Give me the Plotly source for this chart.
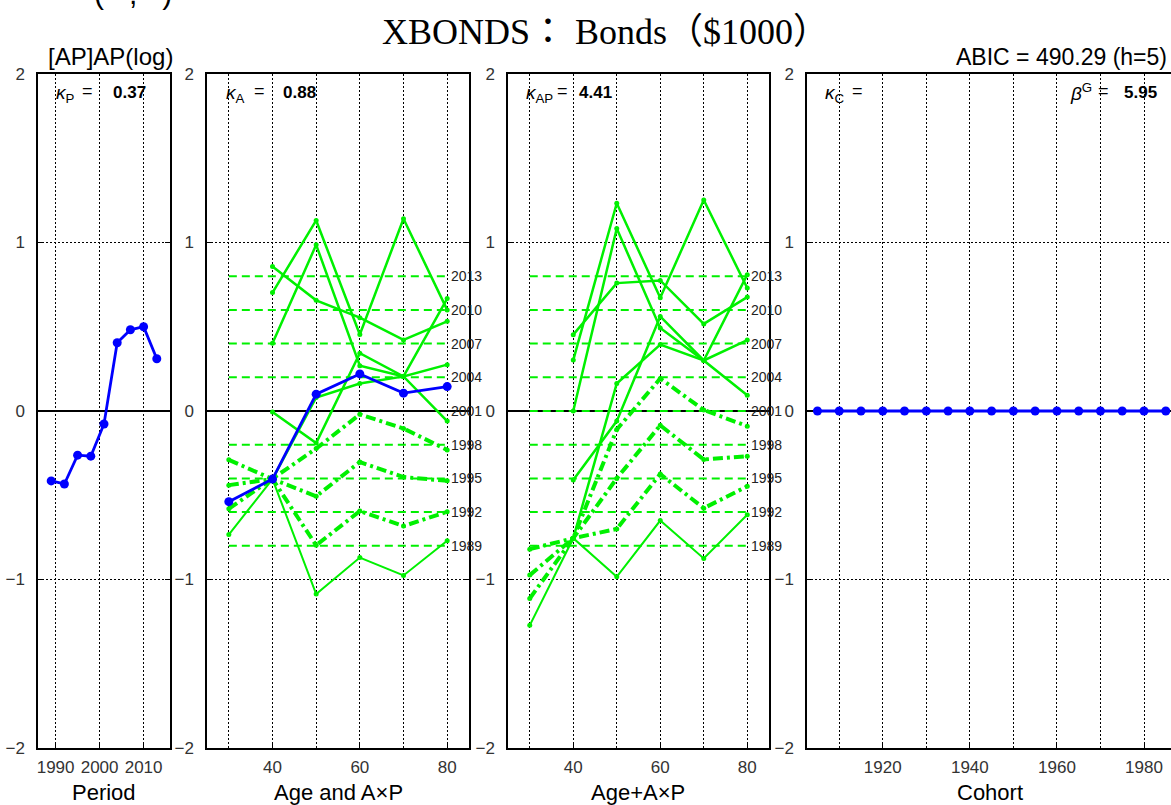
import plotly.graph_objects as go

# ---------------- data ----------------
periods = [1989, 1992, 1995, 1998, 2001, 2004, 2007, 2010, 2013]
period_effect = [-0.415, -0.433, -0.262, -0.268, -0.077, 0.405, 0.482, 0.500, 0.310]
period_level = [-0.8, -0.6, -0.4, -0.2, 0.0, 0.2, 0.4, 0.6, 0.8]
period_labels = ["1989", "1992", "1995", "1998", "2001", "2004", "2007", "2010", "2013"]

ages = [30, 40, 50, 60, 70, 80]
age_effect = [-0.538, -0.404, 0.100, 0.220, 0.106, 0.145]

# Age and A×P profiles, one list per period (None = age group not observed)
ap_1989 = [-0.733, -0.404, -1.086, -0.870, -0.976, -0.770]
ap_1992 = [-0.440, -0.404, -0.797, -0.594, -0.683, -0.598]
ap_1995 = [-0.290, -0.404, -0.506, -0.303, -0.392, -0.414]
ap_1998 = [-0.580, -0.404, -0.223, -0.020, -0.104, -0.231]
ap_2001 = [None, -0.404, 0.080, 0.163, 0.205, 0.667]
ap_2004 = [None, -0.006, -0.190, 0.343, 0.205, -0.060]
ap_2007 = [None, 0.402, 0.986, 0.269, 0.205, 0.275]
ap_2010 = [None, 0.703, 1.131, 0.454, 1.141, 0.600]
ap_2013 = [None, 0.857, 0.657, 0.554, 0.422, 0.532]

# Age + A×P profiles
sum_1989 = [-1.272, -0.755, -0.984, -0.650, -0.875, -0.616]
sum_1992 = [-0.974, -0.755, -0.700, -0.374, -0.577, -0.447]
sum_1995 = [-0.820, -0.755, -0.400, -0.085, -0.288, -0.268]
sum_1998 = [-1.113, -0.755, -0.110, 0.193, 0.006, -0.090]
sum_2001 = [None, -0.755, 0.163, 0.394, 0.300, 0.809]
sum_2004 = [None, -0.410, -0.060, 0.561, 0.300, 0.093]
sum_2007 = [None, 0.000, 1.083, 0.493, 0.300, 0.421]
sum_2010 = [None, 0.302, 1.233, 0.672, 1.252, 0.730]
sum_2013 = [None, 0.453, 0.759, 0.775, 0.517, 0.676]

cohorts = [1905, 1910, 1915, 1920, 1925, 1930, 1935, 1940, 1945,
           1950, 1955, 1960, 1965, 1970, 1975, 1980, 1985]
cohort_effect = [0.0, 0.0, 0.0, 0.0, 0.0, 0.0, 0.0, 0.0, 0.0,
                 0.0, 0.0, 0.0, 0.0, 0.0, 0.0, 0.0, 0.0]

ap_rows = [ap_1989, ap_1992, ap_1995, ap_1998, ap_2001, ap_2004, ap_2007, ap_2010, ap_2013]
sum_rows = [sum_1989, sum_1992, sum_1995, sum_1998, sum_2001, sum_2004, sum_2007, sum_2010, sum_2013]

# ---------------- styling ----------------
W, H = 1171, 805
GREEN = "#00f000"
BLUE = "#0000ff"
SANS = "Liberation Sans, Arial, sans-serif"
SERIF = "Liberation Serif, Noto Sans CJK JP, serif"
TICKC = "#333333"
DOT = "1.5px,2.5px"


def px_x(p):
    return p / W


def px_y(p):
    return 1 - p / H


def line_style(period):
    if period == 1989:
        return dict(color=GREEN, width=2)
    if period < 2001:
        return dict(color=GREEN, width=4, dash="10px,4px,3px,4px")
    return dict(color=GREEN, width=2.5)


fig = go.Figure()

# Panel 1: period effect
fig.add_trace(go.Scatter(x=periods, y=period_effect, mode="lines+markers",
                         line=dict(color=BLUE, width=2.8),
                         marker=dict(color=BLUE, size=9),
                         xaxis="x", yaxis="y", showlegend=False))

# Panels 2 and 3: period reference levels and age profiles
for ax, rows, zero_on_top in (("2", ap_rows, True), ("3", sum_rows, False)):
    for lvl in period_level:
        fig.add_trace(go.Scatter(x=[ages[0], ages[-1]], y=[lvl, lvl], mode="lines",
                                 line=dict(color=GREEN, width=2, dash="8px,5px"),
                                 xaxis="x" + ax, yaxis="y" + ax, showlegend=False,
                                 hoverinfo="skip"))
    if zero_on_top:
        fig.add_trace(go.Scatter(x=[25, 85], y=[0, 0], mode="lines",
                                 line=dict(color="black", width=2),
                                 xaxis="x" + ax, yaxis="y" + ax, showlegend=False,
                                 hoverinfo="skip"))
    for p, row in zip(periods, rows):
        fig.add_trace(go.Scatter(x=ages, y=row, mode="lines+markers",
                                 line=line_style(p),
                                 marker=dict(color=GREEN, size=5),
                                 connectgaps=False,
                                 xaxis="x" + ax, yaxis="y" + ax, showlegend=False,
                                 name=str(p)))

# Panel 2: age effect
fig.add_trace(go.Scatter(x=ages, y=age_effect, mode="lines+markers",
                         line=dict(color=BLUE, width=2.8),
                         marker=dict(color=BLUE, size=9),
                         xaxis="x2", yaxis="y2", showlegend=False))

# Panel 4: cohort effect
fig.add_trace(go.Scatter(x=cohorts, y=cohort_effect, mode="lines+markers",
                         line=dict(color=BLUE, width=2.8),
                         marker=dict(color=BLUE, size=9),
                         xaxis="x4", yaxis="y4", showlegend=False))

# ---------------- axes ----------------
panels = {
    "": dict(left=38, right=170, rng=[1986, 2016], major=[1990, 2000, 2010], minor=None),
    "2": dict(left=207, right=469, rng=[25, 85], major=[40, 60, 80], minor=[30, 50, 70]),
    "3": dict(left=508, right=769, rng=[25, 85], major=[40, 60, 80], minor=[30, 50, 70]),
    "4": dict(left=807, right=W, rng=[1902.6, 1986.2], major=[1920, 1940, 1960, 1980],
              minor=[1910, 1930, 1950, 1970]),
}
y_dom = [px_y(748), px_y(74)]

for key, pnl in panels.items():
    last = key == "4"
    xa = dict(domain=[px_x(pnl["left"]), px_x(pnl["right"])], range=pnl["rng"],
              anchor="y" + key, tickvals=pnl["major"], ticks="inside", ticklen=5,
              tickcolor="black", showline=True, linecolor="black", linewidth=1.5,
              mirror=True, showgrid=True, gridcolor="black", griddash=DOT, gridwidth=1,
              zeroline=False, tickfont=dict(family=SANS, size=17, color=TICKC),
              ticklabelstandoff=3, fixedrange=True)
    if pnl["minor"]:
        xa["minor"] = dict(tickvals=pnl["minor"], showgrid=True, gridcolor="black",
                           griddash=DOT, gridwidth=1, ticks="")
    ya = dict(domain=y_dom, range=[-2, 2], anchor="x" + key,
              tickvals=[-2, -1, 0, 1, 2], ticks="inside", ticklen=5, tickcolor="black",
              showline=True, linecolor="black", linewidth=1.5,
              mirror=False if last else "ticks",
              showgrid=True, gridcolor="black", griddash=DOT, gridwidth=1,
              zeroline=True, zerolinecolor="black", zerolinewidth=2,
              tickfont=dict(family=SANS, size=17, color=TICKC),
              ticklabelstandoff=8, fixedrange=True)
    fig.layout["xaxis" + key] = xa
    fig.layout["yaxis" + key] = ya

# ---------------- text ----------------
ann = []


def text(x, y, s, size=17, anchor="center", family=SANS, color="black", yanchor="middle"):
    ann.append(dict(x=px_x(x), y=px_y(y), xref="paper", yref="paper", text=s,
                    showarrow=False, xanchor=anchor, yanchor=yanchor,
                    font=dict(family=family, size=size, color=color)))


text(133, -7, "(   ,   )", size=30)
text(605, 32, "XBONDS： Bonds（$1000）", size=36, family=SERIF)
text(110, 56, "[AP]AP(log)", size=24)
text(1169, 57, "ABIC = 490.29 (h=5)", size=23, anchor="right")

# axis titles
text(104, 792, "Period", size=22)
text(338, 792, "Age and A×P", size=22)
text(638, 792, "Age+A×P", size=22)
text(990, 792, "Cohort", size=22)

# smoothing parameters
text(54, 94, "<i>κ</i><sub>P</sub>", size=19, anchor="left")
text(88, 91, "=", size=18)
text(111, 92, "<b>0.37</b>", size=17, anchor="left")
text(224, 94, "<i>κ</i><sub>A</sub>", size=19, anchor="left")
text(259, 91, "=", size=18)
text(281, 92, "<b>0.88</b>", size=17, anchor="left")
text(524, 94, "<i>κ</i><sub>AP</sub>", size=19, anchor="left")
text(562, 91, "=", size=18)
text(577, 92, "<b>4.41</b>", size=17, anchor="left")
text(823, 94, "<i>κ</i><sub>C</sub>", size=19, anchor="left")
text(857, 91, "=", size=18)
text(1068, 92, "<i>β</i><sup>G</sup>", size=19, anchor="left")
text(1103, 91, "=", size=18)
text(1122, 92, "<b>5.95</b>", size=17, anchor="left")

# period labels beside the reference levels
for lvl, lab in zip(period_level, period_labels):
    for x0, yref in ((449, "y2"), (749, "y3")):
        ann.append(dict(x=px_x(x0), y=lvl, xref="paper", yref=yref, text=lab,
                        showarrow=False, xanchor="left", yanchor="middle",
                        font=dict(family=SANS, size=14, color="#222222")))

fig.update_layout(width=W, height=H, margin=dict(l=0, r=0, t=0, b=0, autoexpand=False),
                  paper_bgcolor="white", plot_bgcolor="white", annotations=ann,
                  showlegend=False)

fig.write_html("out.html")
